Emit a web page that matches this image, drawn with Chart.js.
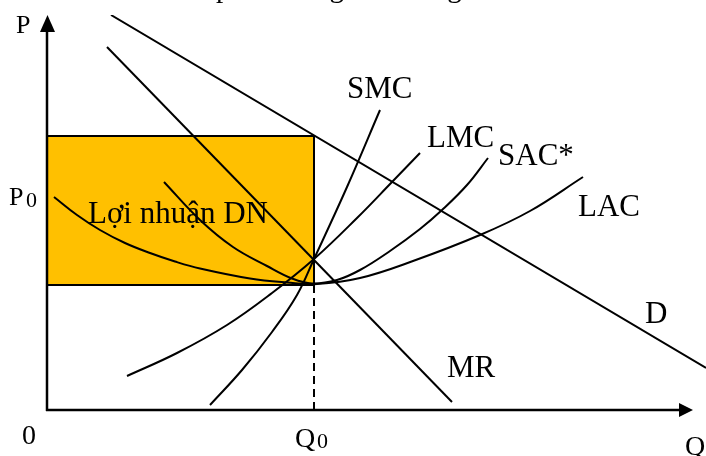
<!DOCTYPE html>
<html>
<head>
<meta charset="utf-8">
<script src="https://cdn.jsdelivr.net/npm/chart.js@4.4.1/dist/chart.umd.min.js"></script>
<style>
  html, body { margin: 0; padding: 0; background: #fff; overflow: hidden; }
  canvas { display: block; }
</style>
</head>
<body>
<canvas id="c" width="706" height="456"></canvas>
<script>
// Quantity (Q) and price (P) in diagram units.
const demand = [{x: 64, y: 395}, {x: 659, y: 42}];
const marginalRevenue = [{x: 60, y: 363}, {x: 405, y: 8}];
const shortRunMC = [
  {x: 163, y: 5}, {x: 195, y: 40}, {x: 225, y: 78}, {x: 250, y: 115},
  {x: 267, y: 151}, {x: 300, y: 223}, {x: 333, y: 300}
];
const longRunMC = [
  {x: 80, y: 34}, {x: 130, y: 57}, {x: 180, y: 85}, {x: 225, y: 117},
  {x: 267, y: 151}, {x: 310, y: 192}, {x: 345, y: 228}, {x: 373, y: 257}
];
const longRunAC = [
  {x: 7, y: 213}, {x: 30, y: 195}, {x: 53, y: 180}, {x: 78, y: 167},
  {x: 103, y: 157}, {x: 128, y: 148.5}, {x: 153, y: 141.5}, {x: 203, y: 131.5},
  {x: 240, y: 127.5}, {x: 270, y: 126}, {x: 313, y: 132}, {x: 366, y: 149},
  {x: 433, y: 175}, {x: 483, y: 199}, {x: 536, y: 233}
];
const shortRunACStar = [
  {x: 117, y: 228}, {x: 153, y: 190}, {x: 186, y: 163}, {x: 220, y: 144},
  {x: 245, y: 131.5}, {x: 265, y: 126.5}, {x: 290, y: 130}, {x: 313, y: 140},
  {x: 343, y: 159}, {x: 373, y: 181}, {x: 395, y: 200}, {x: 420, y: 225},
  {x: 441, y: 252}
];
const q0 = 267;           // profit-maximising output
const profitTop = 274;    // price at Q0
const profitBottom = 125; // average cost at Q0
const p0Level = 213;      // where the P0 mark sits on the price axis

const curveLabels = ['SMC', 'LMC', 'SAC*', 'LAC', 'D', 'MR'];
const profitLabel = 'Lợi nhuận DN';
const axisLabels = {p: 'P', q: 'Q', origin: '0', q0: ['Q', '0'], p0: ['P', '0']};
const titleText = 'Giá sản phẩm hàng bán trong năm';

const SERIF = '"Liberation Serif", "Times New Roman", serif';

function curve(data, extra) {
  return Object.assign({
    data, showLine: true, borderColor: '#000', borderWidth: 2,
    pointRadius: 0, pointHoverRadius: 0, fill: false, tension: 0, order: 1
  }, extra || {});
}

// Axes, arrows and all the text are drawn on top of the plotted curves.
const diagramText = {
  id: 'diagramText',
  afterDatasetsDraw(chart) {
    const {ctx, scales: {x, y}} = chart;
    const X = v => x.getPixelForValue(v);
    const Y = v => y.getPixelForValue(v);
    ctx.save();
    ctx.strokeStyle = '#000';
    ctx.fillStyle = '#000';
    ctx.lineWidth = 2.5;
    ctx.lineCap = 'butt';

    // price axis
    ctx.beginPath();
    ctx.moveTo(X(0), Y(0) + 1);
    ctx.lineTo(X(0), Y(378));
    ctx.stroke();
    ctx.beginPath();
    ctx.moveTo(X(0) + 0.5, Y(395));
    ctx.lineTo(X(0) - 7, Y(378));
    ctx.lineTo(X(0) + 8, Y(378));
    ctx.closePath();
    ctx.fill();

    // quantity axis
    ctx.beginPath();
    ctx.moveTo(X(0) - 1, Y(0));
    ctx.lineTo(X(633), Y(0));
    ctx.stroke();
    ctx.beginPath();
    ctx.moveTo(X(646), Y(0));
    ctx.lineTo(X(632), Y(0) - 7);
    ctx.lineTo(X(632), Y(0) + 7);
    ctx.closePath();
    ctx.fill();

    ctx.textBaseline = 'alphabetic';
    ctx.textAlign = 'left';

    // cut-off heading above the diagram
    ctx.font = '29px ' + SERIF;
    ctx.fillText(titleText, 121, -3);

    // curve names
    ctx.font = '31px ' + SERIF;
    const spots = {
      'SMC': [300, 312], 'LMC': [380, 263], 'SAC*': [451, 245],
      'LAC': [531, 194], 'D': [598, 87], 'MR': [400, 33]
    };
    curveLabels.forEach(name => {
      const s = spots[name];
      ctx.fillText(name, X(s[0]), Y(s[1]));
    });
    ctx.fillText(profitLabel, X(41), Y(187));

    // axis names and marks
    ctx.font = '26px ' + SERIF;
    ctx.fillText(axisLabels.p, 16, Y(377));
    ctx.fillText(axisLabels.p0[0], 9, Y(p0Level) + 8);
    ctx.font = '22px ' + SERIF;
    ctx.fillText(axisLabels.p0[1], 26, Y(p0Level) + 10);

    ctx.font = '28px ' + SERIF;
    ctx.fillText(axisLabels.origin, 22, Y(0) + 34);
    ctx.fillText(axisLabels.q0[0], X(q0) - 19, Y(0) + 37);
    ctx.fillText(axisLabels.q, X(638), Y(0) + 45);
    ctx.font = '22px ' + SERIF;
    ctx.fillText(axisLabels.q0[1], X(q0) + 3, Y(0) + 38);
    ctx.restore();
  }
};

new Chart(document.getElementById('c'), {
  type: 'scatter',
  data: {
    datasets: [
      // profit rectangle: top edge filled down to the bottom edge
      curve([{x: 0, y: profitTop}, {x: q0, y: profitTop}],
            {fill: '+1', backgroundColor: '#FFC000', order: 10}),
      curve([{x: 0, y: profitBottom}, {x: q0, y: profitBottom}], {order: 9}),
      curve([{x: q0, y: profitTop}, {x: q0, y: profitBottom}], {order: 8}),
      curve([{x: q0, y: profitBottom}, {x: q0, y: 0}], {borderDash: [8, 5], order: 8}),
      curve(demand),
      curve(marginalRevenue),
      curve(shortRunMC, {tension: 0.4}),
      curve(longRunMC, {tension: 0.4}),
      curve(longRunAC, {tension: 0.4}),
      curve(shortRunACStar, {tension: 0.4})
    ]
  },
  options: {
    responsive: false,
    devicePixelRatio: 1,
    animation: false,
    events: [],
    layout: {padding: {left: 47, top: 15, right: 0, bottom: 46}},
    scales: {
      x: {type: 'linear', min: 0, max: 659, display: false},
      y: {type: 'linear', min: 0, max: 395, display: false}
    },
    plugins: {legend: {display: false}, tooltip: {enabled: false}, title: {display: false}}
  },
  plugins: [diagramText]
});
</script>
</body>
</html>
